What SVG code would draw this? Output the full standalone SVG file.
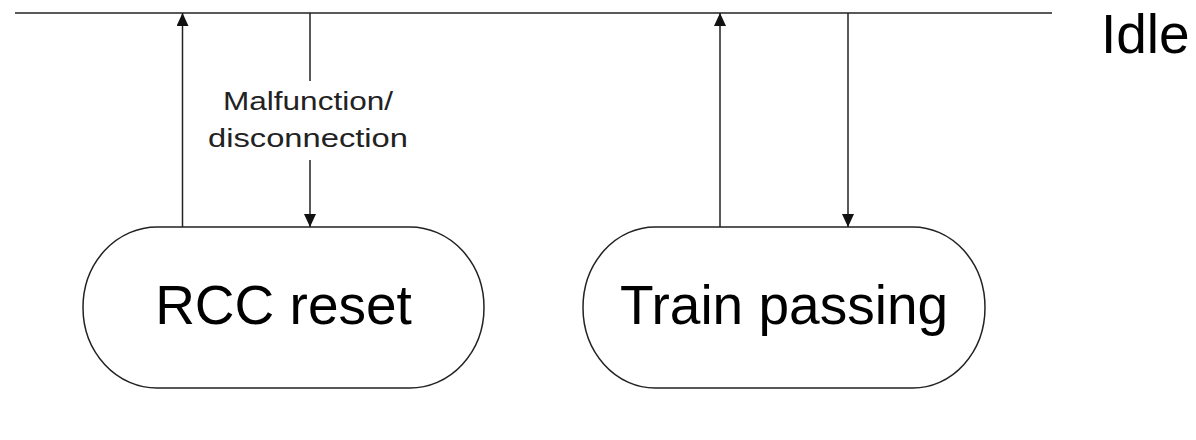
<svg xmlns="http://www.w3.org/2000/svg" width="1196" height="440" viewBox="0 0 1196 440">
<style>
.ln{stroke:#222;stroke-width:1.5;fill:none}
.node{fill:#fff;stroke:#222;stroke-width:1.5}
.big{font-family:"Liberation Sans",Arial,sans-serif;font-size:55px;fill:#000}
.lbl{font-family:"Liberation Sans",Arial,sans-serif;font-size:26px;fill:#222}
</style>
<defs>
<marker id="ah" viewBox="0 0 13 12" refX="13" refY="6" markerWidth="13" markerHeight="12" markerUnits="userSpaceOnUse" orient="auto">
<path d="M0,0 L13,6 L0,12 Z" fill="#111"/>
</marker>
</defs>
<g id="idle">
<line class="ln" x1="15" y1="13" x2="1052" y2="13"/>
<text class="big" x="1101" y="53">Idle</text>
</g>
<g id="rcc-reset">
<rect class="node" x="83" y="227" width="401" height="161" rx="74" ry="80.5"/>
<text class="big" x="283.5" y="324" text-anchor="middle">RCC reset</text>
</g>
<g id="train-passing">
<rect class="node" x="583" y="227" width="402" height="161" rx="72" ry="80.5"/>
<text class="big" x="784" y="324" text-anchor="middle">Train passing</text>
</g>
<g id="connectors">
<line class="ln" x1="182.5" y1="227" x2="182.5" y2="13" marker-end="url(#ah)"/>
<line class="ln" x1="310" y1="13" x2="310" y2="81"/>
<line class="ln" x1="310" y1="160" x2="310" y2="227" marker-end="url(#ah)"/>
<line class="ln" x1="720" y1="227" x2="720" y2="13" marker-end="url(#ah)"/>
<line class="ln" x1="848" y1="13" x2="848" y2="227" marker-end="url(#ah)"/>
<text class="lbl" x="308" y="110" text-anchor="middle" textLength="170" lengthAdjust="spacingAndGlyphs">Malfunction/</text>
<text class="lbl" x="308" y="147" text-anchor="middle" textLength="200" lengthAdjust="spacingAndGlyphs">disconnection</text>
</g>
</svg>
